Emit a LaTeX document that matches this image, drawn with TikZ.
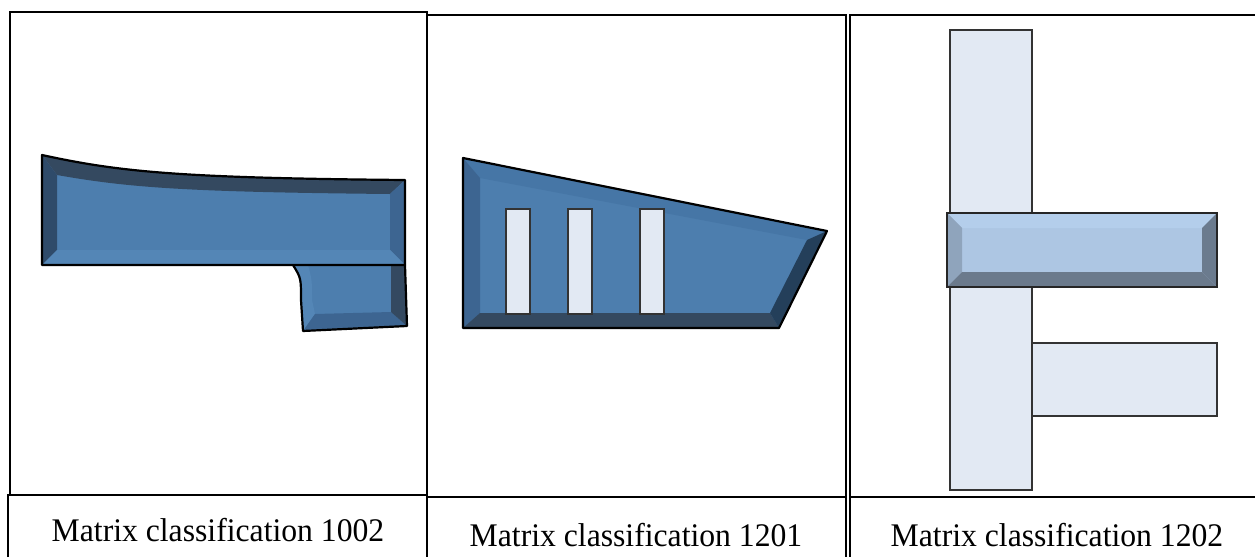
\documentclass[tikz,border=0pt]{standalone}
\usepackage{fontspec}
\setmainfont{Liberation Serif}
\definecolor{faceblue}{RGB}{77,126,174}
\definecolor{bevdark}{RGB}{52,73,96}
\definecolor{bevdeep}{RGB}{36,63,90}
\definecolor{bevside}{RGB}{47,75,106}
\definecolor{bevmid}{RGB}{61,101,145}
\definecolor{bevsoft}{RGB}{70,118,166}
\definecolor{bevlight}{RGB}{84,134,182}
\definecolor{panefill}{RGB}{226,233,243}
\definecolor{barface}{RGB}{173,198,227}
\definecolor{bartop}{RGB}{180,206,235}
\definecolor{barleft}{RGB}{143,164,188}
\definecolor{barright}{RGB}{107,123,142}
\definecolor{barbottom}{RGB}{107,122,140}
\begin{document}
\begin{tikzpicture}[x=1pt,y=-1pt,
  frame/.style={line width=2pt, black},
  outline/.style={line width=2.2pt, black, line join=round},
  pane/.style={fill=panefill, draw=black!80, line width=1.2pt},
  caption/.style={font=\fontsize{33}{38}\selectfont, inner sep=0pt, xscale=0.96}]
  \useasboundingbox (0,0) rectangle (1255,557);
  % Frames and caption boxes
  \draw[frame] (10,495) -- (10,12) -- (427,12) -- (427,557);
  \draw[frame] (8,557) -- (8,495) -- (427,495);
  \draw[frame] (428,15) -- (846,15) -- (846,557);
  \draw[frame] (428,497) -- (846,497);
  \draw[frame] (1255,15) -- (850,15) -- (850,557);
  \draw[frame] (850,497) -- (1255,497);
  \node[caption] (cap1) at (218,530) {Matrix classification 1002};
  \node[caption] (cap2) at (636,535) {Matrix classification 1201};
  \node[caption] (cap3) at (1057,535) {Matrix classification 1202};
  % Left panel: bent bar with a tab below
  \begin{scope}
    \fill[faceblue] (293,265) .. controls (301,278) .. (301,300) -- (303,331) -- (407,326) -- (405,265) -- cycle;
    \fill[bevlight] (293,265) .. controls (301,278) .. (301,300) -- (303,331) -- (315,314) -- (312,300) .. controls (312,280) .. (308,265) -- cycle;
    \fill[bevmid] (303,331) -- (407,326) -- (391,312) -- (315,314) -- cycle;
    \fill[bevdark] (407,326) -- (405,265) -- (391,265) -- (391,312) -- cycle;
    \draw[outline] (293,265) .. controls (301,278) .. (301,300) -- (303,331) -- (407,326) -- (405,265);
    \fill[faceblue] (42,155) .. controls (120,172) and (180,178) .. (405,180) -- (405,265) -- (42,265) -- cycle;
    \fill[bevside] (42,155) -- (57,175) -- (57,250) -- (42,265) -- cycle;
    \fill[bevdark] (42,155) .. controls (120,172) and (180,178) .. (405,180) -- (390,194) .. controls (190,192) and (130,188) .. (57,175) -- cycle;
    \fill[bevmid] (405,180) -- (405,265) -- (390,250) -- (390,194) -- cycle;
    \fill[bevlight] (42,265) -- (405,265) -- (390,250) -- (57,250) -- cycle;
    \draw[outline] (42,155) .. controls (120,172) and (180,178) .. (405,180) -- (405,265) -- (42,265) -- cycle;
  \end{scope}
  % Middle panel: wedge with three windows
  \begin{scope}
    \fill[faceblue] (463,158) -- (827,231) -- (779,328) -- (463,328) -- cycle;
    \fill[bevsoft] (463,158) -- (827,231) -- (807,240) -- (480,178) -- cycle;
    \fill[bevmid] (463,158) -- (480,178) -- (480,313) -- (463,328) -- cycle;
    \fill[bevdark] (463,328) -- (480,313) -- (770,313) -- (779,328) -- cycle;
    \fill[bevdeep] (827,231) -- (779,328) -- (770,313) -- (807,240) -- cycle;
    \draw[outline] (463,158) -- (827,231) -- (779,328) -- (463,328) -- cycle;
    \foreach \x in {506,568,640}
      \draw[pane, line width=1.6pt] (\x,209) rectangle ++(24,105);
  \end{scope}
  % Right panel: post, arm and raised bar
  \begin{scope}
    \draw[pane] (950,30) rectangle (1032,490);
    \draw[pane] (1032,343) rectangle (1217,416);
    \fill[barface] (947,213) rectangle (1217,287);
    \fill[bartop] (947,213) -- (1217,213) -- (1202,228) -- (962,228) -- cycle;
    \fill[barleft] (947,213) -- (962,228) -- (962,272) -- (947,287) -- cycle;
    \fill[barright] (1217,213) -- (1217,287) -- (1202,272) -- (1202,228) -- cycle;
    \fill[barbottom] (947,287) -- (1217,287) -- (1202,272) -- (962,272) -- cycle;
    \draw[line width=2pt, black!85] (947,213) rectangle (1217,287);
  \end{scope}
\end{tikzpicture}
\end{document}
